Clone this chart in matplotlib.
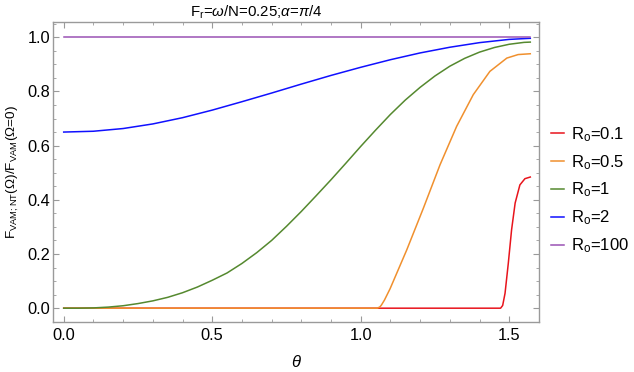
import matplotlib
matplotlib.use("Agg")
import matplotlib.pyplot as plt
from matplotlib.ticker import MultipleLocator, FormatStrFormatter

plt.rcParams['font.family'] = ['Liberation Sans', 'DejaVu Sans']
plt.rcParams['mathtext.fontset'] = 'custom'
plt.rcParams['mathtext.rm'] = 'Liberation Sans'
plt.rcParams['mathtext.it'] = 'Liberation Sans:italic'

# ---- data ----
labels = ['R$_\\mathrm{o}$=0.1', 'R$_\\mathrm{o}$=0.5', 'R$_\\mathrm{o}$=1',
          'R$_\\mathrm{o}$=2', 'R$_\\mathrm{o}$=100']
colors = ['#e8141c', '#f0902e', '#55892f', '#1010ff', '#9a52b4']

theta_r01 = [0.0, 1.471, 1.478, 1.486, 1.497, 1.508, 1.520, 1.536, 1.553, 1.571]
val_r01 = [0.0, 0.0, 0.010, 0.055, 0.166, 0.289, 0.388, 0.455, 0.478, 0.484]

theta_r05 = [0.0, 1.056, 1.065, 1.070, 1.080, 1.099, 1.155, 1.211, 1.267, 1.323,
             1.379, 1.435, 1.492, 1.530, 1.571]
val_r05 = [0.0, 0.0, 0.005, 0.012, 0.030, 0.072, 0.215, 0.369, 0.529, 0.671,
           0.788, 0.874, 0.923, 0.936, 0.939]

theta_r1 = [0.0, 0.05, 0.1, 0.15, 0.2, 0.25, 0.3, 0.35, 0.4, 0.45, 0.5, 0.55,
            0.6, 0.65, 0.7, 0.75, 0.8, 0.85, 0.9, 0.95, 1.0, 1.05, 1.1, 1.15,
            1.2, 1.25, 1.3, 1.35, 1.4, 1.45, 1.5, 1.55, 1.571]
val_r1 = [0.0, 0.0, 0.001, 0.004, 0.009, 0.017, 0.027, 0.040, 0.057, 0.078,
          0.103, 0.130, 0.165, 0.205, 0.250, 0.302, 0.357, 0.415, 0.474, 0.535,
          0.597, 0.657, 0.715, 0.768, 0.815, 0.857, 0.893, 0.922, 0.945, 0.962,
          0.974, 0.981, 0.982]

theta_r2 = [0.0, 0.1, 0.2, 0.3, 0.4, 0.5, 0.6, 0.7, 0.8, 0.9, 1.0, 1.1, 1.2,
            1.3, 1.4, 1.5, 1.571]
val_r2 = [0.650, 0.653, 0.663, 0.680, 0.703, 0.731, 0.762, 0.794, 0.827,
          0.859, 0.889, 0.917, 0.942, 0.963, 0.980, 0.992, 0.996]

theta_r100 = [0.0, 1.571]
val_r100 = [1.0, 1.0]

series = [(theta_r01, val_r01), (theta_r05, val_r05), (theta_r1, val_r1),
          (theta_r2, val_r2), (theta_r100, val_r100)]

fig = plt.figure(figsize=(6.34, 3.72), dpi=100)
ax = fig.add_axes([0.0841, 0.1344, 0.7659, 0.8056])

for (t, v), c, lab in zip(series, colors, labels):
    ax.plot(t, v, color=c, lw=1.1, label=lab)

ax.set_xlim(-0.035, 1.600)
ax.set_ylim(-0.051, 1.055)
ax.xaxis.set_major_locator(MultipleLocator(0.5))
ax.xaxis.set_minor_locator(MultipleLocator(0.1))
ax.yaxis.set_major_locator(MultipleLocator(0.2))
ax.yaxis.set_minor_locator(MultipleLocator(0.05))
ax.xaxis.set_major_formatter(FormatStrFormatter('%.1f'))
ax.yaxis.set_major_formatter(FormatStrFormatter('%.1f'))

for sp in ax.spines.values():
    sp.set_color('#9a9a9a')
    sp.set_linewidth(1.0)
ax.tick_params(which='both', direction='in', top=True, right=True,
               color='#9a9a9a', labelsize=11.8, labelcolor='black')
ax.tick_params(which='major', length=4, width=0.8)
ax.tick_params(which='minor', length=2.2, width=0.6)
ax.tick_params(axis='x', which='major', pad=4)
ax.tick_params(axis='y', which='major', pad=2.2)

ax.set_title('F$_\\mathrm{r}$=$\\omega$/N=0.25;$\\alpha$=$\\pi$/4', fontsize=10.8,
             pad=4, x=0.418)
ax.set_xlabel('$\\theta$', fontsize=12, labelpad=8)
ax.set_ylabel('F$_\\mathrm{VAM;NT}$(Ω)/F$_\\mathrm{VAM}$(Ω=0)', fontsize=9.7)
ax.yaxis.set_label_coords(-0.067, 0.5)

ax.legend(loc='center left', bbox_to_anchor=(0.8686, 0.489),
          bbox_transform=fig.transFigure, frameon=False,
          fontsize=12, handlelength=0.82, handletextpad=0.38, labelspacing=0.55,
          borderaxespad=0, borderpad=0)

fig.savefig('out.png', dpi=100)
